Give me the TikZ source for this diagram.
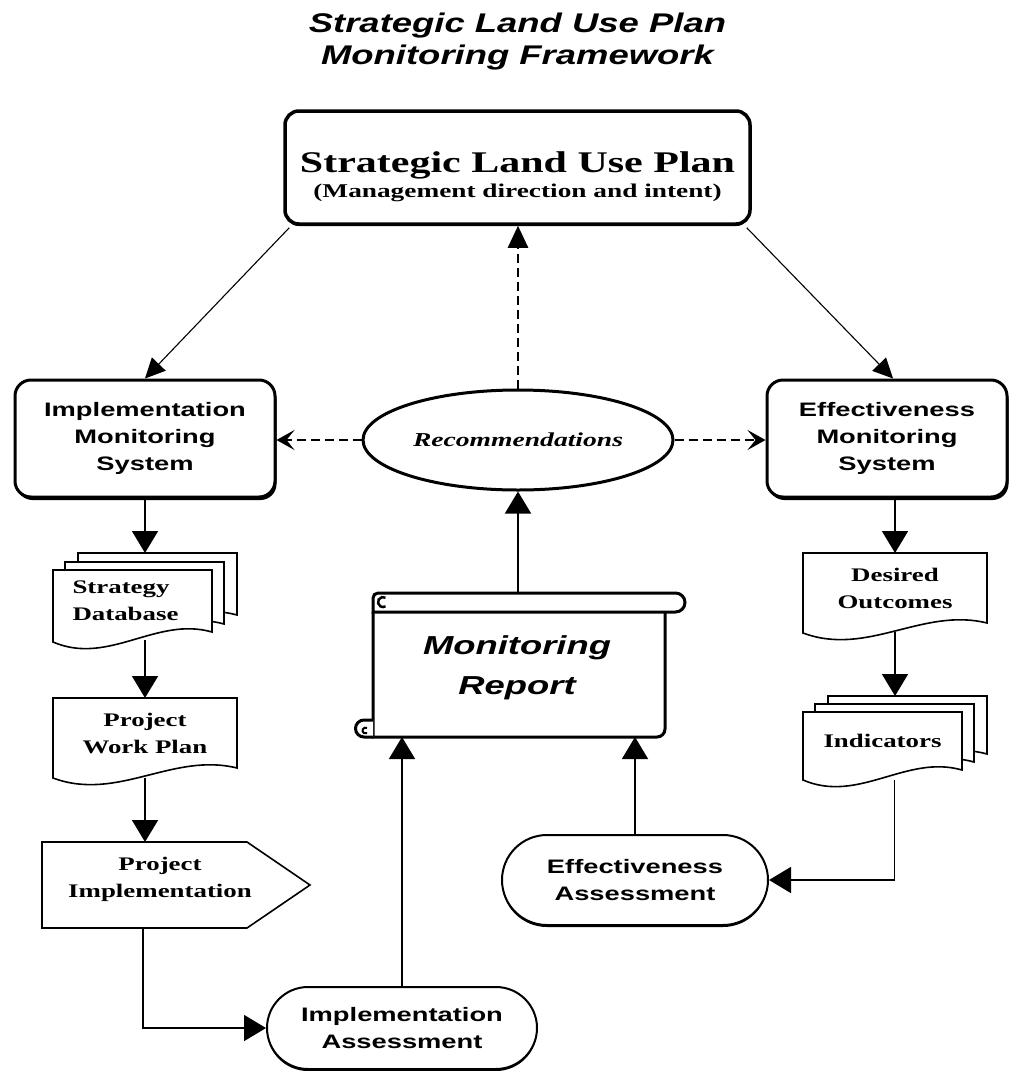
\documentclass[tikz,border=0pt]{standalone}
\usepackage{fontspec}
\setmainfont{Liberation Serif}[FakeStretch=1.4]
\setsansfont{Liberation Sans}[FakeStretch=1.4]
\newfontfamily\titlefont{Liberation Sans}[FakeStretch=1.35]
\usetikzlibrary{arrows.meta,calc,shapes.geometric,shapes.misc,backgrounds,shadows}

\newcommand{\docpath}[1]{%
  \filldraw[docline] (#1.north west) -- (#1.north east) -- (#1.south east)
  .. controls ($(#1.south west)!0.65!(#1.south east)+(0,-16)$) and ($(#1.south west)!0.35!(#1.south east)+(0,34)$) ..
  ($(#1.south west)+(0,10)$) -- cycle;}

\begin{document}
\begin{tikzpicture}[x=1pt,y=-1pt,
  sanstxt/.style={font=\sffamily\bfseries\fontsize{19.5pt}{27pt}\selectfont, align=center},
  seriftxt/.style={font=\bfseries\fontsize{19.2pt}{27pt}\selectfont, align=center},
  sysbox/.style={draw, line width=3pt, rounded corners=16pt, fill=white, minimum height=117pt,
     general shadow={fill=black, shadow xshift=1.5pt, shadow yshift=-3pt}, sanstxt},
  stadium/.style={draw, rounded rectangle, line width=2pt, fill=white, inner sep=0pt,
     general shadow={fill=black, shadow xshift=0pt, shadow yshift=-2pt}, sanstxt},
  docnode/.style={inner sep=0pt, outer sep=0pt, seriftxt},
  docline/.style={line width=1.6pt, fill=white},
  scroll/.style={line width=3pt, fill=white},
  conn/.style={line width=1.6pt},
  thinconn/.style={line width=1.1pt},
  bigtip/.style={-{Triangle[length=22pt,width=26pt]}},
  midtip/.style={-{Triangle[length=20pt,width=19pt]}},
  dashconn/.style={line width=2.5pt, dash pattern=on 9pt off 5pt},
  barbtip/.style={-{Stealth[length=18pt,width=20pt,inset=8pt]}}
]
\begin{pgfonlayer}{background}
\fill[white] (0,0) rectangle (1017,1071);
\end{pgfonlayer}
\useasboundingbox (0,0) rectangle (1017,1071);

% title
\node[font=\titlefont\bfseries\itshape\fontsize{27pt}{32pt}\selectfont, align=center, inner sep=0pt] (title) at (517.5,42) {Strategic Land Use Plan\\Monitoring Framework};

% top box
\node[draw, line width=3.5pt, rounded corners=14pt, minimum width=465pt, minimum height=113pt, fill=white,
  general shadow={fill=black, shadow xshift=0pt, shadow yshift=-2pt}] (slup) at (517.5,167.5) {};
\node[font=\bfseries\fontsize{19.5pt}{25pt}\selectfont, align=center, inner sep=0pt] (slupt) at (517.5,176.5)
  {{\fontsize{30pt}{25pt}\selectfont Strategic Land Use Plan}\\(Management direction and intent)};

% monitoring systems
\node[sysbox, minimum width=260pt] (ims) at (145,438.5) {Implementation\\Monitoring\\System};
\node[sysbox, minimum width=240pt] (ems) at (887,438.5) {Effectiveness\\Monitoring\\System};

% recommendations
\node[draw, ellipse, line width=3pt, minimum width=310pt, minimum height=100pt, inner sep=0pt, fill=white,
  font=\bfseries\itshape\fontsize{19.7pt}{24pt}\selectfont] (rec) at (518,440) {Recommendations};

% monitoring report
\node[minimum width=292pt, minimum height=125pt, inner sep=0pt, outer sep=0pt] (mr) at (519,674.5) {};
\node[font=\sffamily\bfseries\itshape\fontsize{26pt}{40pt}\selectfont, align=center, inner sep=0pt] (mrt) at (517,668) {Monitoring\\Report};

% left column documents
\node[docnode, minimum width=159pt, minimum height=62pt] (sdbA) at (157.5,584) {};
\node[docnode, minimum width=159pt, minimum height=62pt] (sdbB) at (144.5,593) {};
\node[docnode, minimum width=159pt, minimum height=62pt, text width=120pt, align=left] (sdb) at (132.5,601) {Strategy\\Database};
\node[docnode, minimum width=184pt, minimum height=70pt] (pwp) at (145,733) {Project\\Work Plan};
\node[docnode, minimum width=236pt, minimum height=86pt] (pimp) at (160,885) {};
\node[seriftxt, inner sep=0pt] (pimpt) at (160,879) {Project\\Implementation};

% right column documents
\node[docnode, minimum width=184pt, minimum height=70pt] (do) at (895,588) {Desired\\Outcomes};
\node[docnode, minimum width=159pt, minimum height=58pt] (indA) at (907.5,725) {};
\node[docnode, minimum width=159pt, minimum height=58pt] (indB) at (894.5,733) {};
\node[docnode, minimum width=159pt, minimum height=58pt] (ind) at (882.5,741) {Indicators};

% assessments
\node[stadium, minimum width=270pt, minimum height=82pt] (ia) at (402,1028) {Implementation\\Assessment};
\node[stadium, minimum width=266pt, minimum height=90pt] (ea) at (635,880) {Effectiveness\\Assessment};

% shapes drawn behind texts
\begin{pgfonlayer}{background}
\docpath{sdbA}\docpath{sdbB}\docpath{sdb}
\docpath{pwp}
\docpath{do}
\docpath{indA}\docpath{indB}\docpath{ind}
\filldraw[docline] (pimp.north west) -- ($(pimp.north west)+(205,0)$) -- ($(pimp.west)+(268,0)$)
  -- ($(pimp.south west)+(205,0)$) -- (pimp.south west) -- cycle;
% scroll
\filldraw[scroll] (mr.north west) -- (mr.south west) -- ($(mr.south east)+(-8,0)$)
  arc[start angle=270,end angle=360,radius=8pt] -- (mr.north east);
\filldraw[scroll] (mr.north west) -- ($(mr.north west)+(0,-14)$) arc[start angle=180,end angle=90,radius=5pt]
  -- ($(mr.north east)+(10.5,-19)$) arc[start angle=90,end angle=-90,radius=9.5pt] -- cycle;
\draw[line width=2.5pt] ($(mr.north west)+(12.5,-14.3)$) arc[start angle=60,end angle=300,radius=5pt];
\filldraw[scroll] ($(mr.south west)+(0,-17)$) -- ($(mr.south west)+(-9,-17)$)
  arc[start angle=90,end angle=270,radius=8.5pt] -- (mr.south west);
\draw[line width=2pt] ($(mr.south west)+(-6,-9)$) arc[start angle=60,end angle=300,radius=3pt];
\end{pgfonlayer}

% connectors
\draw[thinconn, midtip] ($(slup.south west)+(6,2)$) -- (ims.north);
\draw[thinconn, midtip] ($(slup.south east)+(-5,2)$) -- ($(ems.north)+(6,0)$);
\draw[dashconn, -{Triangle[length=22pt,width=20pt]}] (rec.north) -- (rec.north |- slup.south);
\draw[dashconn, barbtip] (rec.west) -- (rec.west -| ims.east);
\draw[dashconn, barbtip] (rec.east) -- (rec.east -| ems.west);
\draw[conn, bigtip] ($(rec.south |- mr.north)+(0,-19)$) -- (rec.south);
\draw[conn, bigtip] (ims.south) -- (ims.south |- sdbA.north);
\draw[conn, bigtip] ($(pwp.north |- sdb.south)+(0,8)$) -- (pwp.north);
\draw[conn, bigtip] ($(pwp.south)+(0,10)$) -- (pwp.south |- pimp.north);
\draw[conn, bigtip] ($(pimp.south west)+(101,0)$) |- (ia.west);
\draw[conn, bigtip] (ia.north) -- (ia.north |- mr.south);
\draw[conn, bigtip] (ea.north) -- (ea.north |- mr.south);
\draw[conn, bigtip] (do.north |- ems.south) -- (do.north);
\draw[conn, bigtip] ($(do.south)+(0,9)$) -- (do.south |- indA.north);
\draw[conn, bigtip] ($(ind.south)+(12,10)$) |- (ea.east);
\end{tikzpicture}
\end{document}
